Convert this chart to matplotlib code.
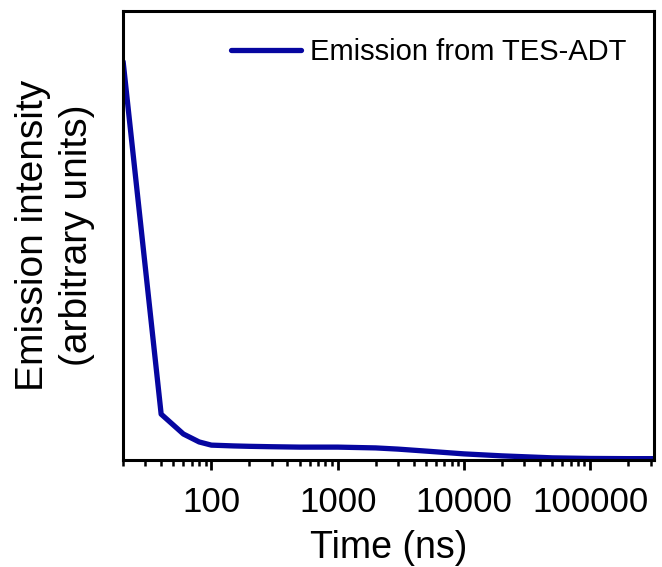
import matplotlib
matplotlib.use("Agg")
import matplotlib.pyplot as plt
import numpy as np

plt.rcParams['font.family'] = ['Liberation Sans', 'DejaVu Sans']

time_ns = [20, 40, 60, 80, 100, 150, 200, 300, 500, 1000, 2000, 3000, 5000,
           10000, 20000, 50000, 100000, 200000, 320000]
intensity = [1.0, 0.113, 0.063, 0.043, 0.035, 0.033, 0.032, 0.031, 0.030, 0.030,
             0.028, 0.025, 0.020, 0.013, 0.008, 0.003, 0.0015, 0.001, 0.001]
series_label = "Emission from TES-ADT"
xticks = [100, 1000, 10000, 100000]
xtick_labels = ["100", "1000", "10000", "100000"]

fig = plt.figure(figsize=(6.62, 5.67), dpi=100)
ax = fig.add_axes([0.186, 0.189, 0.802, 0.792])
ax.plot(time_ns, intensity, color='#0606a0', lw=3.8, label=series_label,
        solid_joinstyle='round', solid_capstyle='round')
ax.set_xscale('log')
ax.set_xlim(20, 320000)
ax.set_ylim(-0.002, 1.128)
ax.set_xticks(xticks)
ax.set_xticklabels(xtick_labels)
ax.set_yticks([])
for s in ax.spines.values():
    s.set_linewidth(2.2)
ax.tick_params(axis='x', which='major', direction='out', length=7, width=2,
               labelsize=25, pad=12)
ax.tick_params(axis='x', which='minor', direction='out', length=4, width=1.8)
ax.set_xlabel("Time (ns)", fontsize=27, labelpad=8)
ax.set_ylabel("Emission intensity\n(arbitrary units)", fontsize=28,
              labelpad=20, linespacing=1.3)
leg = ax.legend(loc='upper right', frameon=False, fontsize=21,
                handlelength=2.4, handletextpad=0.3,
                bbox_to_anchor=(1.0, 1.0), borderaxespad=0.55)
fig.savefig("out.png", dpi=100)
